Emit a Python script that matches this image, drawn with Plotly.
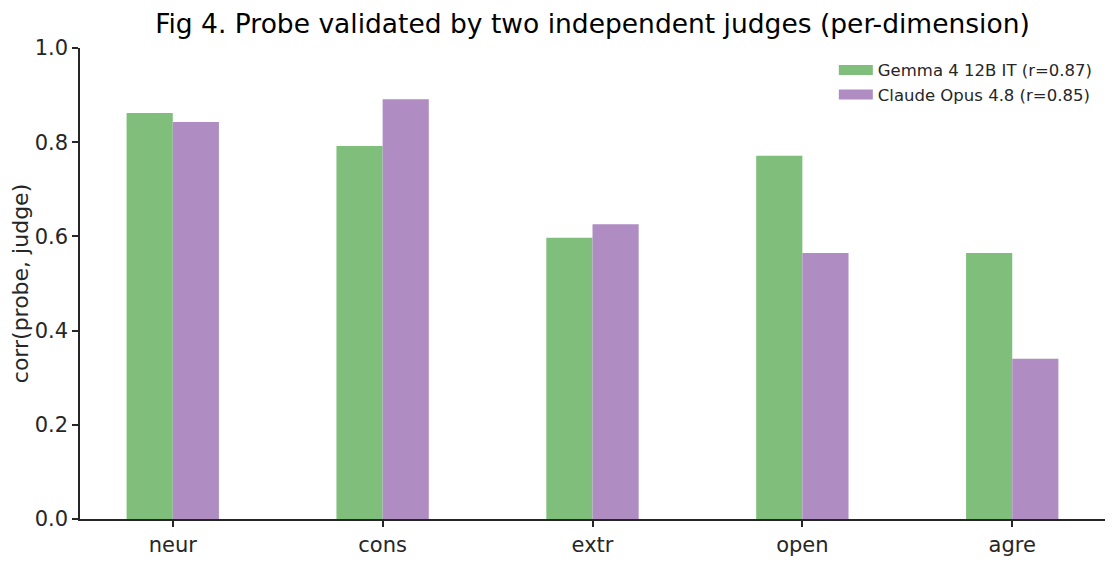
import plotly.graph_objects as go

dims = ['neur', 'cons', 'extr', 'open', 'agre']
gemma = [0.862, 0.792, 0.597, 0.771, 0.565]
claude = [0.843, 0.891, 0.626, 0.565, 0.340]

gemma_name = 'Gemma 4 12B IT (r=0.87)'
claude_name = 'Claude Opus 4.8 (r=0.85)'

font = 'DejaVu Sans'
ink = '#262626'
green = '#7fbf7b'
purple = '#af8dc3'

fig = go.Figure()
# two bars per dimension, side by side, touching
fig.add_trace(go.Bar(x=list(range(len(dims))), y=gemma, name=gemma_name,
                     marker=dict(color=green, line=dict(width=0)),
                     width=0.22, offset=-0.22, showlegend=False))
fig.add_trace(go.Bar(x=list(range(len(dims))), y=claude, name=claude_name,
                     marker=dict(color=purple, line=dict(width=0)),
                     width=0.22, offset=0, showlegend=False))

# legend entries as thick lines -> wide rectangular swatches like matplotlib
for name, col in [(gemma_name, green), (claude_name, purple)]:
    fig.add_trace(go.Scatter(x=[None], y=[None], mode='lines', name=name,
                             line=dict(color=col, width=12)))

# page body has an 8px margin, so the figure is a bit smaller than the window
fig.update_layout(
    width=1107, height=554,
    margin=dict(l=72, r=10, t=40, b=43, autoexpand=False),
    plot_bgcolor='white', paper_bgcolor='white',
    font=dict(family=font, color=ink, size=21),
    title=dict(text='Fig 4. Probe validated by two independent judges (per-dimension)',
               x=0.528, xanchor='center', y=0.971, yanchor='middle',
               font=dict(size=26.5, family=font, color='black')),
    barmode='overlay',
    showlegend=True,
    legend=dict(x=0.993, xanchor='right', y=0.99, yanchor='top',
                font=dict(size=16.5, family=font, color=ink),
                bgcolor='rgba(255,255,255,0)', borderwidth=0,
                itemwidth=34, tracegroupgap=2),
    xaxis=dict(tickmode='array', tickvals=list(range(len(dims))), ticktext=dims,
               range=[-0.442, 4.442], showgrid=False, zeroline=False,
               automargin=False,
               showline=True, linecolor=ink, linewidth=1.5,
               ticks='outside', ticklen=6, tickwidth=1.5, tickcolor=ink,
               tickfont=dict(size=21)),
    yaxis=dict(title=dict(text='corr(probe, judge)', font=dict(size=22), standoff=12),
               range=[0, 1.0], tickmode='array',
               tickvals=[0, 0.2, 0.4, 0.6, 0.8, 1.0],
               ticktext=['0.0', '0.2', '0.4', '0.6', '0.8', '1.0'],
               showgrid=False, zeroline=False,
               automargin=False,
               showline=True, linecolor=ink, linewidth=1.5,
               ticks='outside', ticklen=6, tickwidth=1.5, tickcolor=ink,
               tickfont=dict(size=21)),
)

fig.write_html('out.html')
